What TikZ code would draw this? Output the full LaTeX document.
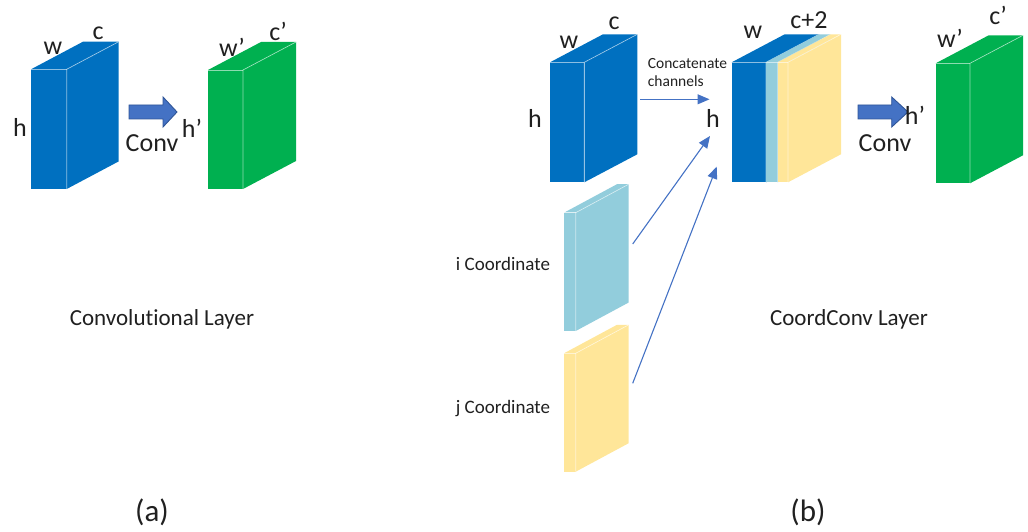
\documentclass[tikz,border=0pt]{standalone}
\usepackage{fontspec}
\setmainfont{Carlito}[Ligatures=NoCommon]
\usetikzlibrary{arrows.meta}

\definecolor{boxblue}{HTML}{0070C0}
\definecolor{boxgreen}{HTML}{00B050}
\definecolor{coordi}{HTML}{92CDDC}
\definecolor{coordj}{HTML}{FFE699}
\definecolor{arrowblue}{HTML}{4472C4}
\definecolor{arrowedge}{HTML}{2F5597}
\definecolor{txt}{HTML}{202020}

% cuboid: #1 front-top-left corner, #2 width, #3 height, #4/#5 depth offset, #6 colour
\newcommand\cuboid[6]{%
  \begin{scope}[shift={#1}]
    \fill[#6] (0,0) rectangle (#2,#3);
    \fill[#6] (0,0) -- (#4,#5) -- ++(#2,0) -- (#2,0) -- cycle;
    \fill[#6] (#2,0) -- ++(#4,#5) -- ++(0,#3) -- (#2,#3) -- cycle;
    \draw[edge] (#2,#3) -- (#2,0) -- ++(#4,#5);
    \draw[edge] (0,0) -- (#2,0);
  \end{scope}}

% block arrow: #1 tail-left x, #2 head start x, #3 tip x, #4 centre y
\newcommand\blockarrow[4]{%
  \draw[blockarr] (#1,#4-7) -- (#2,#4-7) -- (#2,#4-15) -- (#3,#4)
     -- (#2,#4+15) -- (#2,#4+7) -- (#1,#4+7) -- cycle;}

\begin{document}
\begin{tikzpicture}[x=1pt,y=-1pt,
  edge/.style={draw=white,draw opacity=0.55,line width=0.7pt},
  blockarr/.style={fill=arrowblue,draw=arrowedge,line width=0.9pt,line join=miter},
  dim/.style={text=txt,inner sep=0pt,font=\fontsize{26}{26}\selectfont},
  caption/.style={text=txt,inner sep=0pt,font=\fontsize{23}{23}\selectfont},
  sub/.style={text=txt,inner sep=0pt,font=\fontsize{31}{31}\selectfont},
  small/.style={text=txt,inner sep=0pt,font=\fontsize{15.5}{15.5}\selectfont},
  coordlabel/.style={text=txt,inner sep=0pt,font=\fontsize{19}{19}\selectfont},
  link/.style={draw=arrowblue,line width=1.1pt,-{Triangle[length=12pt,width=10pt]}}]

\useasboundingbox (0,0) rectangle (1028,532);

% ---------- (a) plain convolution ----------
\cuboid{(31,69.3)}{35.7}{119.7}{52}{-27.6}{boxblue}
\cuboid{(208,70)}{35}{119}{53}{-28}{boxgreen}
\blockarrow{129}{163}{177}{112}

\node[dim] (aw) at (53,48) {w};
\node[dim] (ac) at (98,33) {c};
\node[dim] (ah) at (20,127) {h};
\node[dim] (aconv) at (152,143) {Conv};
\node[dim] (ah2) at (192,128) {h’};
\node[dim] (aw2) at (232,47) {w’};
\node[dim] (ac2) at (278,31) {c’};
\node[caption] (acap) at (162,319) {Convolutional Layer};
\node[sub] (alab) at (152,512) {(a)};

% ---------- (b) CoordConv ----------
\cuboid{(550,62.3)}{34.3}{120}{53}{-28}{boxblue}
\cuboid{(564,212.7)}{11.7}{118.3}{53}{-28.5}{coordi}
\cuboid{(564,353.3)}{11.7}{118.4}{53}{-28.5}{coordj}

% concatenated stack
\cuboid{(731.7,62.3)}{34.3}{120}{53}{-28}{boxblue}
\cuboid{(766,62.3)}{11.7}{120}{53}{-28}{coordi}
\cuboid{(777.7,62.3)}{10.3}{120}{53}{-28}{coordj}

\cuboid{(935.7,63.3)}{34.3}{120}{53}{-28}{boxgreen}
\blockarrow{858}{891.7}{908}{112}

\node[dim] (bw) at (569,42) {w};
\node[dim] (bc) at (614,23) {c};
\node[dim] (bh) at (535,118) {h};
\node[small,anchor=west] (cat1) at (647.7,63.3) {Concatenate};
\node[small,anchor=west] (cat2) at (647.7,80.7) {channels};
\node[dim] (sh) at (713,118) {h};
\node[dim] (sw) at (753,32) {w};
\node[dim] (sc) at (809,20) {c+2};
\node[dim] (bconv) at (885,143) {Conv};
\node[dim] (bh2) at (915,115) {h’};
\node[dim] (bw2) at (950,38) {w’};
\node[dim] (bc2) at (998,15) {c’};
\node[coordlabel] (ilab) at (503,264) {i Coordinate};
\node[coordlabel] (jlab) at (503,409) {j Coordinate};
\node[caption] (bcap) at (849,319) {CoordConv Layer};
\node[sub] (blab) at (808,512) {(b)};

% connectors into the concatenation
\coordinate (featout) at (640,99.3);
\coordinate (featin) at (709.5,99.3);
\coordinate (iout) at (632.7,244);
\coordinate (iin) at (710,136);
\coordinate (jout) at (632.7,383.3);
\coordinate (jin) at (716.7,166.7);
\draw[link] (featout) -- (featin);
\draw[link] (iout) -- (iin);
\draw[link] (jout) -- (jin);

\end{tikzpicture}
\end{document}
